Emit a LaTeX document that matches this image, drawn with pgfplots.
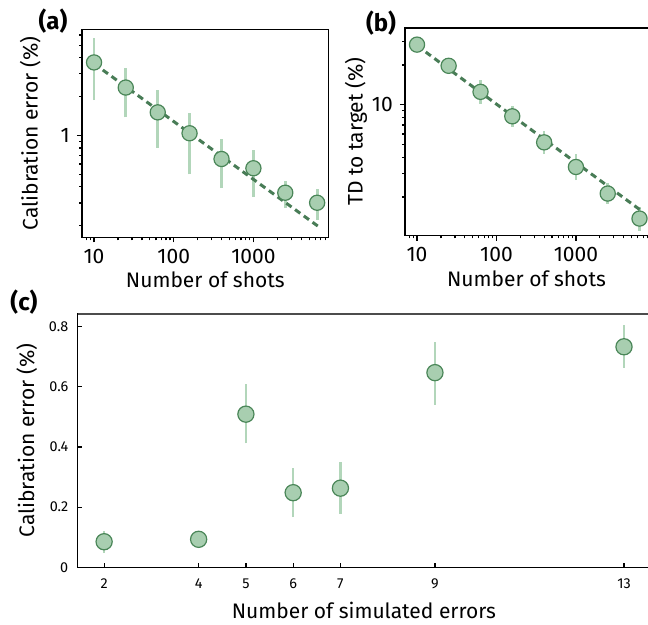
\documentclass[border=0pt]{standalone}
\usepackage{pgfplots}
\pgfplotsset{compat=1.18}
\usepackage{fontspec}
\setmainfont{Fira Sans}
\definecolor{mfill}{RGB}{168,206,176}
\definecolor{medge}{RGB}{74,134,88}
\definecolor{fitc}{RGB}{72,124,86}
\definecolor{errc}{RGB}{178,214,186}
\begin{document}
\begin{tikzpicture}[x=1pt,y=1pt]
\useasboundingbox (0,0) rectangle (324,312.5);
\pgfplotsset{
  every axis/.append style={
    scale only axis, anchor=south west,
    font=\fontsize{10.5}{12}\selectfont,
    axis line style={line width=0.65pt},
    every tick/.style={black, line width=0.6pt},
    tick pos=left,
  },
  markstyle/.style={only marks, mark=*, mark size=3.8pt,
    mark options={fill=mfill, draw=medge, line width=0.6pt}},
}
% ---------------- (a)
\begin{axis}[
  at={(41pt,193.85pt)}, width=123.35pt, height=103.8pt,
  xmode=log, ymode=log,
  xmin=7.06, xmax=8810, ymin=0.1625, ymax=6.6,
  xtick={10,100,1000}, xticklabels={10,100,1000},
  minor xtick={8,9,20,30,40,50,60,70,80,90,200,300,400,500,600,700,800,900,2000,3000,4000,5000,6000,7000,8000},
  ytick={1}, yticklabels={1},
  minor ytick={0.2,0.3,0.4,0.5,0.6,0.7,0.8,0.9,2,3,4,5,6},
  tick align=outside, major tick length=2.6pt, minor tick length=1.5pt,
  xticklabel style={anchor=base, yshift=-10.5pt},
  xlabel={Number of shots}, ylabel={Calibration error (\%)},
  xlabel style={at={(axis description cs:0.5,0)}, anchor=base, yshift=-25.35pt},
  ylabel style={at={(axis description cs:-0.21,0.5)}, anchor=center},
]
\addplot[errc, line width=1.35pt, unbounded coords=jump] coordinates {
 (10,1.88) (10,5.67) (10,nan)
 (25,1.38) (25,3.32) (25,nan)
 (63,0.80) (63,2.25) (63,nan)
 (158,0.50) (158,1.50) (158,nan)
 (398,0.39) (398,0.934) (398,nan)
 (1000,0.332) (1000,0.772) (1000,nan)
 (2512,0.273) (2512,0.444) (2512,nan)
 (6310,0.221) (6310,0.383)
};
\addplot[fitc, line width=1.5pt, dash pattern=on 3.2pt off 2.2pt] coordinates {(10,3.6) (6850,0.193)};
\addplot[markstyle] coordinates {
 (10,3.68) (25,2.35) (63,1.51) (158,1.04) (398,0.657) (1000,0.557) (2512,0.36) (6310,0.301)
};
\end{axis}
% ---------------- (b)
\begin{axis}[
  at={(202.5pt,194.75pt)}, width=122.5pt, height=103.75pt,
  xmode=log, ymode=log,
  xmin=7.06, xmax=8550, ymin=1.02, ymax=38.1,
  xtick={10,100,1000}, xticklabels={10,100,1000},
  minor xtick={8,9,20,30,40,50,60,70,80,90,200,300,400,500,600,700,800,900,2000,3000,4000,5000,6000,7000,8000},
  ytick={10}, yticklabels={10},
  minor ytick={2,3,4,5,6,7,8,9,20,30},
  tick align=outside, major tick length=2.6pt, minor tick length=1.5pt,
  xticklabel style={anchor=base, yshift=-10.5pt},
  xlabel={Number of shots}, ylabel={TD to target (\%)},
  xlabel style={at={(axis description cs:0.496,0)}, anchor=base, yshift=-25.35pt},
  ylabel style={at={(axis description cs:-0.2,0.5)}, anchor=center},
]
\addplot[errc, line width=1.35pt, unbounded coords=jump] coordinates {
 (10,26.1) (10,31.1) (10,nan)
 (25,17.1) (25,22.7) (25,nan)
 (63,10.2) (63,15.3) (63,nan)
 (158,6.83) (158,9.75) (158,nan)
 (398,4.21) (398,6.37) (398,nan)
 (1000,2.68) (1000,4.24) (1000,nan)
 (2512,1.77) (2512,2.53) (2512,nan)
 (6310,1.11) (6310,1.69)
};
\addplot[fitc, line width=1.5pt, dash pattern=on 3.2pt off 2.2pt] coordinates {(10,28.0) (6850,1.55)};
\addplot[markstyle] coordinates {
 (10,28.5) (25,19.7) (63,12.5) (158,8.16) (398,5.18) (1000,3.37) (2512,2.12) (6310,1.37)
};
\end{axis}
% ---------------- (c)
\begin{axis}[
  at={(38.85pt,28.85pt)}, width=286.15pt, height=126.65pt,
  xmin=1.441, xmax=13.55, ymin=0, ymax=0.842,
  xtick={2,4,5,6,7,9,13}, xticklabels={2,4,5,6,7,9,13},
  ytick={0,0.2,0.4,0.6,0.8}, yticklabels={0,0.2,0.4,0.6,0.8},
  tick align=inside, major tick length=2.2pt,
  ticklabel style={font=\fontsize{7.2}{8}\selectfont},
  xticklabel style={anchor=base, yshift=-10.5pt},
  yticklabel style={xshift=-1.2pt},
  xlabel={Number of simulated errors}, ylabel={Calibration error (\%)},
  xlabel style={at={(axis description cs:0.5,0)}, anchor=base, yshift=-25.85pt},
  ylabel style={at={(axis description cs:-0.0888,0.5)}, anchor=center},
]
\draw[black!70, line width=1.1pt] (rel axis cs:0,1) -- (rel axis cs:1,1);
\addplot[errc, line width=1.3pt, unbounded coords=jump] coordinates {
 (2,0.047) (2,0.122) (2,nan)
 (4,0.075) (4,0.11) (4,nan)
 (5,0.412) (5,0.608) (5,nan)
 (6,0.167) (6,0.329) (6,nan)
 (7,0.178) (7,0.349) (7,nan)
 (9,0.541) (9,0.750) (9,nan)
 (13,0.663) (13,0.805)
};
\addplot[only marks, mark=*, mark size=4.05pt,
  mark options={fill=mfill, draw=medge, line width=0.6pt}] coordinates {
 (2,0.085) (4,0.093) (5,0.509) (6,0.248) (7,0.263) (9,0.647) (13,0.733)
};
\end{axis}
% panel letters
\node[font=\bfseries\fontsize{12}{14}\selectfont] at (26.5,302) {(a)};
\node[font=\bfseries\fontsize{12}{14}\selectfont] at (190.5,301) {(b)};
\node[font=\bfseries\fontsize{12}{14}\selectfont] at (12,161.25) {(c)};
\end{tikzpicture}
\end{document}
